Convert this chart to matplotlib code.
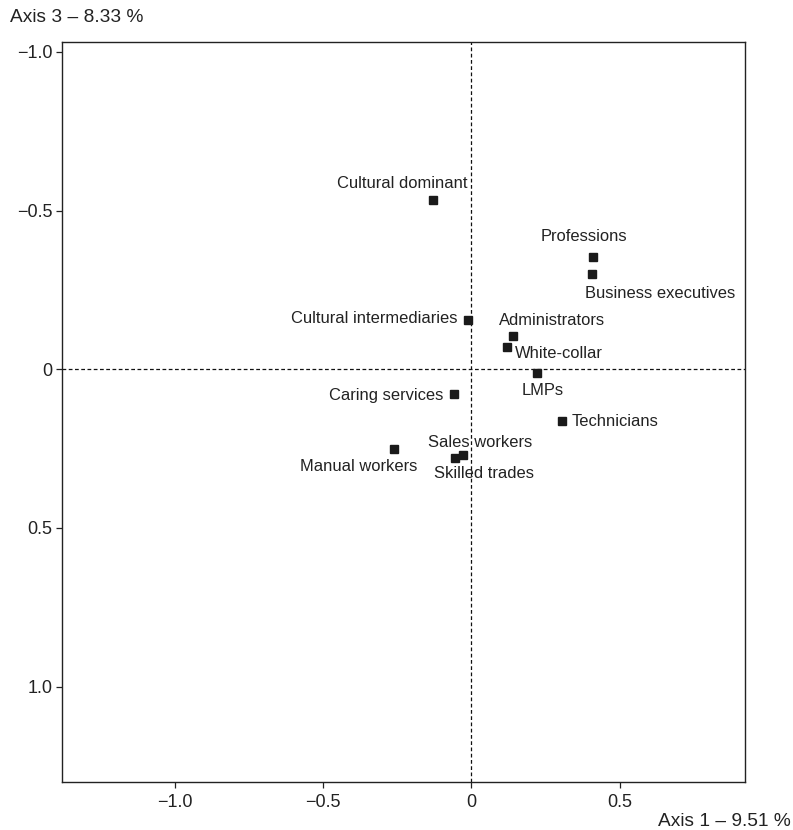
import matplotlib
matplotlib.use("Agg")
import matplotlib.pyplot as plt
from matplotlib.ticker import FixedLocator, FixedFormatter

plt.rcParams['font.family'] = ['Liberation Sans', 'DejaVu Sans']

categories = ["Cultural dominant", "Professions", "Business executives",
              "Cultural intermediaries", "Administrators", "White-collar",
              "LMPs", "Caring services", "Technicians", "Manual workers",
              "Sales workers", "Skilled trades"]
axis1 = [-0.128, 0.409, 0.405, -0.011, 0.140, 0.119, 0.222, -0.057, 0.306, -0.260, -0.027, -0.054]
axis3 = [-0.532, -0.353, -0.301, -0.156, -0.105, -0.069, 0.013, 0.079, 0.164, 0.250, 0.271, 0.279]

xticks = [-1.0, -0.5, 0.0, 0.5]
xticklabels = ["\u22121.0", "\u22120.5", "0", "0.5"]
yticks = [-1.0, -0.5, 0.0, 0.5, 1.0]
yticklabels = ["\u22121.0", "\u22120.5", "0", "0.5", "1.0"]

# label offsets in pixels (dx, dy) and alignment
label_pos = {
    "Cultural dominant": (34, 17, 'right', 'center'),
    "Professions": (-9, 21, 'center', 'center'),
    "Business executives": (-7, -20, 'left', 'center'),
    "Cultural intermediaries": (-11, 1, 'right', 'center'),
    "Administrators": (-14, 15, 'left', 'center'),
    "White-collar": (8, -6, 'left', 'center'),
    "LMPs": (-16, -17, 'left', 'center'),
    "Caring services": (-11, -1, 'right', 'center'),
    "Technicians": (9, 0, 'left', 'center'),
    "Manual workers": (-36, -18, 'center', 'center'),
    "Sales workers": (17, 13, 'center', 'center'),
    "Skilled trades": (29, -16, 'center', 'center'),
}

fig = plt.figure(figsize=(7.93, 8.30), dpi=100)
ax = fig.add_axes([0.078, 0.058, 0.8615, 0.891])

ax.axhline(0, color='#111111', lw=0.9, ls=(0, (3, 2)), zorder=1)
ax.axvline(0, color='#111111', lw=0.9, ls=(0, (3, 2)), zorder=1)

ax.plot(axis1, axis3, ls='none', marker='s', ms=6.2, color='#1a1a1a', zorder=3)

for name, x, y in zip(categories, axis1, axis3):
    dx, dy, ha, va = label_pos[name]
    ax.annotate(name, (x, y), xytext=(dx, dy), textcoords='offset pixels',
                ha=ha, va=va, fontsize=11.9, color='#222222')

ax.set_xlim(-1.38, 0.922)
ax.set_ylim(1.30, -1.03)

ax.xaxis.set_major_locator(FixedLocator(xticks))
ax.xaxis.set_major_formatter(FixedFormatter(xticklabels))
ax.yaxis.set_major_locator(FixedLocator(yticks))
ax.yaxis.set_major_formatter(FixedFormatter(yticklabels))
ax.tick_params(direction='out', length=4, width=0.9, labelsize=13, colors='#222222')
ax.tick_params(axis='y', pad=3)
ax.tick_params(axis='x', pad=5)
for s in ax.spines.values():
    s.set_linewidth(1.0)
    s.set_color('#222222')

fig.text(10 / 793, 1 - 18 / 830, "Axis 3 \u2013 8.33 %", ha='left', va='center', fontsize=13.8, color='#222222')
fig.text(791 / 793, 1 - 821 / 830, "Axis 1 \u2013 9.51 %", ha='right', va='center', fontsize=13.8, color='#222222')

fig.savefig("out.png", dpi=100)
